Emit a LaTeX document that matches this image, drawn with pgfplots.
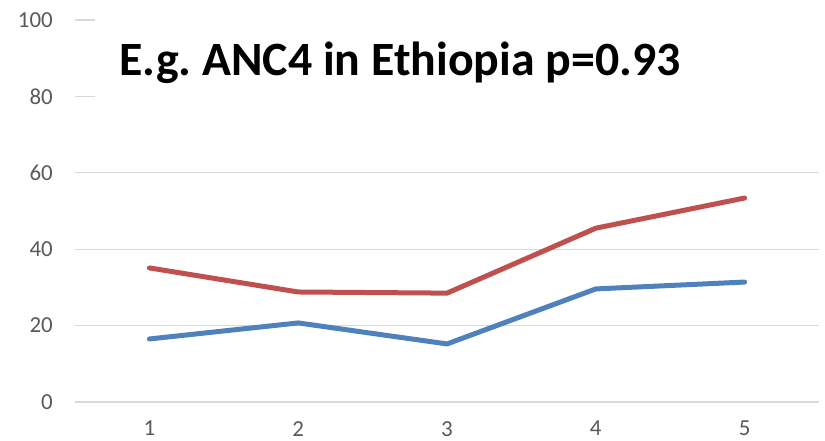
\documentclass[border=0pt]{standalone}
\usepackage{fontspec}
\setmainfont{Carlito}
\usepackage{pgfplots}
\pgfplotsset{compat=1.18}
\definecolor{cred}{HTML}{C0504D}
\definecolor{cblue}{HTML}{4F81BD}
\definecolor{cgrid}{HTML}{D9D9D9}
\definecolor{ctick}{HTML}{595959}
\begin{document}
\frenchspacing
\begin{tikzpicture}
\path[use as bounding box] (0,0) rectangle (825bp,441bp);
\begin{axis}[
  at={(75bp,39bp)}, anchor=south west,
  scale only axis, width=744bp, height=382bp,
  xmin=0.5, xmax=5.5, ymin=0, ymax=100,
  xtick={1,2,3,4,5}, ytick={0,20,40,60,80,100},
  axis line style={draw=none},
  ymajorgrids, grid style={cgrid, line width=1.2bp},
  major tick length=0pt,
  /pgf/number format/assume math mode=true,
  xticklabel={\fontsize{23}{27}\selectfont\pgfmathprintnumber{\tick}},
  yticklabel={\fontsize{23}{27}\selectfont\pgfmathprintnumber{\tick}},
  tick label style={text=ctick, inner sep=0pt},
  yticklabel style={anchor=east, xshift=-22bp},
  xticklabel style={anchor=north, yshift=-19bp},
  clip=false,
]
\addplot[cred, line width=5bp, line join=round, line cap=round] coordinates {(1,35.1) (2,28.8) (3,28.5) (4,45.5) (5,53.4)};
\addplot[cblue, line width=5bp, line join=round, line cap=round] coordinates {(1,16.5) (2,20.7) (3,15.2) (4,29.6) (5,31.4)};
\fill[white] (axis cs:0.634,77.7) rectangle (axis cs:5.6,101.5);
\node[font=\fontsize{48}{56}\selectfont\bfseries, anchor=center] at (axis cs:2.684,88.7) {E.g. ANC4 in Ethiopia p=0.93};
\end{axis}
\end{tikzpicture}
\end{document}
